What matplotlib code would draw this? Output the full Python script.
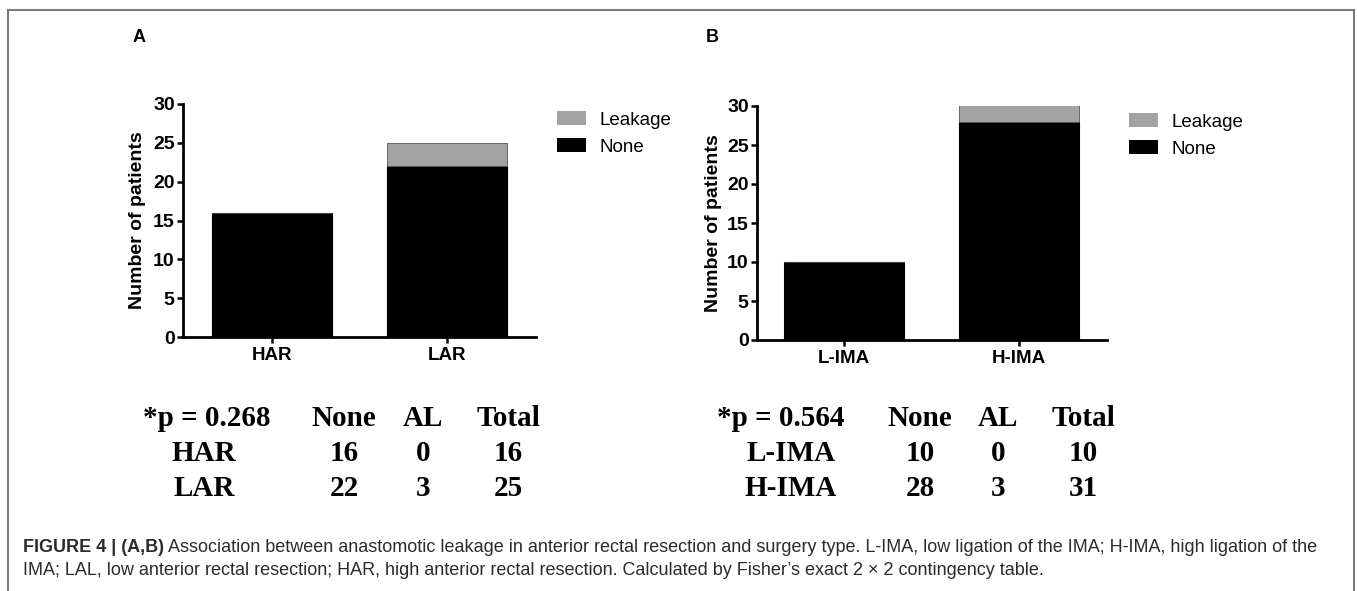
import numpy as np
import matplotlib
matplotlib.use("Agg")
import matplotlib.pyplot as plt
from matplotlib.patches import Patch
from matplotlib.lines import Line2D

# --- data ----------------------------------------------------------------
groups_a = ["HAR", "LAR"]
none_a = [16, 22]
leak_a = [0, 3]
p_a = "0.268"

groups_b = ["L-IMA", "H-IMA"]
none_b = [10, 28]
leak_b = [0, 3]
p_b = "0.564"

table_header = ["None", "AL", "Total"]
y_ticks = [0, 5, 10, 15, 20, 25, 30]

caption_bold = "FIGURE 4 | (A,B)"
caption_rest = (" Association between anastomotic leakage in anterior rectal resection and "
                "surgery type. L-IMA, low ligation of the IMA; H-IMA, high ligation of the")
caption_line2 = ("IMA; LAL, low anterior rectal resection; HAR, high anterior rectal resection. "
                 "Calculated by Fisher\u2019s exact 2 \u00d7 2 contingency table.")

# --- figure setup --------------------------------------------------------
W, H = 1357, 591
fig = plt.figure(figsize=(W / 100, H / 100), dpi=100)
plt.rcParams["font.family"] = "Liberation Sans"

GRAY = "#a3a3a3"


def fx(x):
    return x / W


def fy(y):
    return 1 - y / H


def px_axes(left, right, top, bottom):
    return fig.add_axes([fx(left), fy(bottom), fx(right) - fx(left), fy(top) - fy(bottom)])


def draw_panel(ax, groups, none, leak, xlim, leg_xy):
    x = np.arange(len(groups))
    ax.bar(x, none, width=0.686, color="black", edgecolor="black", linewidth=0.8)
    ax.bar(x, leak, bottom=none, width=0.686, color=GRAY, edgecolor="#555555", linewidth=0.6)
    ax.set_xlim(*xlim)
    ax.set_ylim(0, 30)
    ax.set_yticks(y_ticks)
    ax.set_xticks(x)
    ax.set_xticklabels(groups)
    for s in ["top", "right"]:
        ax.spines[s].set_visible(False)
    for s in ["left", "bottom"]:
        ax.spines[s].set_linewidth(2)
    ax.tick_params(axis="y", length=4.5, width=1.8, pad=1.5, labelsize=14)
    ax.tick_params(axis="x", length=4.5, width=1.8, pad=3, labelsize=13.5)
    for lab in ax.get_xticklabels() + ax.get_yticklabels():
        lab.set_fontweight("bold")
    ax.set_ylabel("Number of patients", fontsize=14, fontweight="bold")
    handles = [Patch(facecolor=GRAY, edgecolor="none", label="Leakage"),
               Patch(facecolor="black", edgecolor="none", label="None")]
    ax.legend(handles=handles, loc="upper left", frameon=False, fontsize=13.5,
              bbox_to_anchor=(fx(leg_xy[0]), fy(leg_xy[1])), bbox_transform=fig.transFigure,
              borderpad=0, borderaxespad=0, handlelength=1.55, handleheight=0.8,
              handletextpad=0.7, labelspacing=0.5)


ax_a = px_axes(183, 536, 104, 337)
draw_panel(ax_a, groups_a, none_a, leak_a, (-0.509, 1.509), (557, 111))
ax_a.yaxis.set_label_coords(-0.105, 0.5)

ax_b = px_axes(757, 1107, 106, 340)
draw_panel(ax_b, groups_b, none_b, leak_b, (-0.497, 1.503), (1129, 113))
ax_b.yaxis.set_label_coords(-0.10, 0.5)

# panel letters
fig.text(fx(139), fy(38), "A", fontsize=13, fontweight="bold", ha="center", va="center")
fig.text(fx(712), fy(38), "B", fontsize=13, fontweight="bold", ha="center", va="center")


# --- contingency tables --------------------------------------------------
def draw_table(groups, none, leak, p, col_x, row_label_x):
    tkw = dict(fontsize=21, fontweight="bold", family="Liberation Serif",
               ha="center", va="baseline")
    fig.text(fx(col_x[0]), fy(426), "*p = " + p, **tkw)
    for cx, h in zip(col_x[1:], table_header):
        fig.text(fx(cx), fy(426), h, **tkw)
    for i, g in enumerate(groups):
        yb = 461 + 35 * i
        fig.text(fx(row_label_x), fy(yb), g, **tkw)
        vals = [none[i], leak[i], none[i] + leak[i]]
        for cx, v in zip(col_x[1:], vals):
            fig.text(fx(cx), fy(yb), str(v), **tkw)


draw_table(groups_a, none_a, leak_a, p_a, [207, 344, 423, 508], 204)
draw_table(groups_b, none_b, leak_b, p_b, [781, 920, 998, 1083], 791)

# --- caption -------------------------------------------------------------
cap_color = "#2b2b2b"
cap_fs = 13
t_bold = fig.text(fx(23), fy(552), caption_bold, fontsize=cap_fs, fontweight="bold",
                  color=cap_color, ha="left", va="baseline")
fig.canvas.draw()
bb = t_bold.get_window_extent(renderer=fig.canvas.get_renderer())
fig.text(bb.x1 / W, fy(552), caption_rest, fontsize=cap_fs, color=cap_color,
         ha="left", va="baseline")
fig.text(fx(23), fy(575), caption_line2, fontsize=cap_fs, color=cap_color,
         ha="left", va="baseline")

# --- frame around the figure ---------------------------------------------
frame_kw = dict(color="#7a7a7a", linewidth=1.5, transform=fig.transFigure)
fig.add_artist(Line2D([fx(8), fx(1354)], [fy(10), fy(10)], **frame_kw))
fig.add_artist(Line2D([fx(8), fx(8)], [fy(10), fy(592)], **frame_kw))
fig.add_artist(Line2D([fx(1354), fx(1354)], [fy(10), fy(592)], **frame_kw))

fig.savefig("out.png", dpi=100)
